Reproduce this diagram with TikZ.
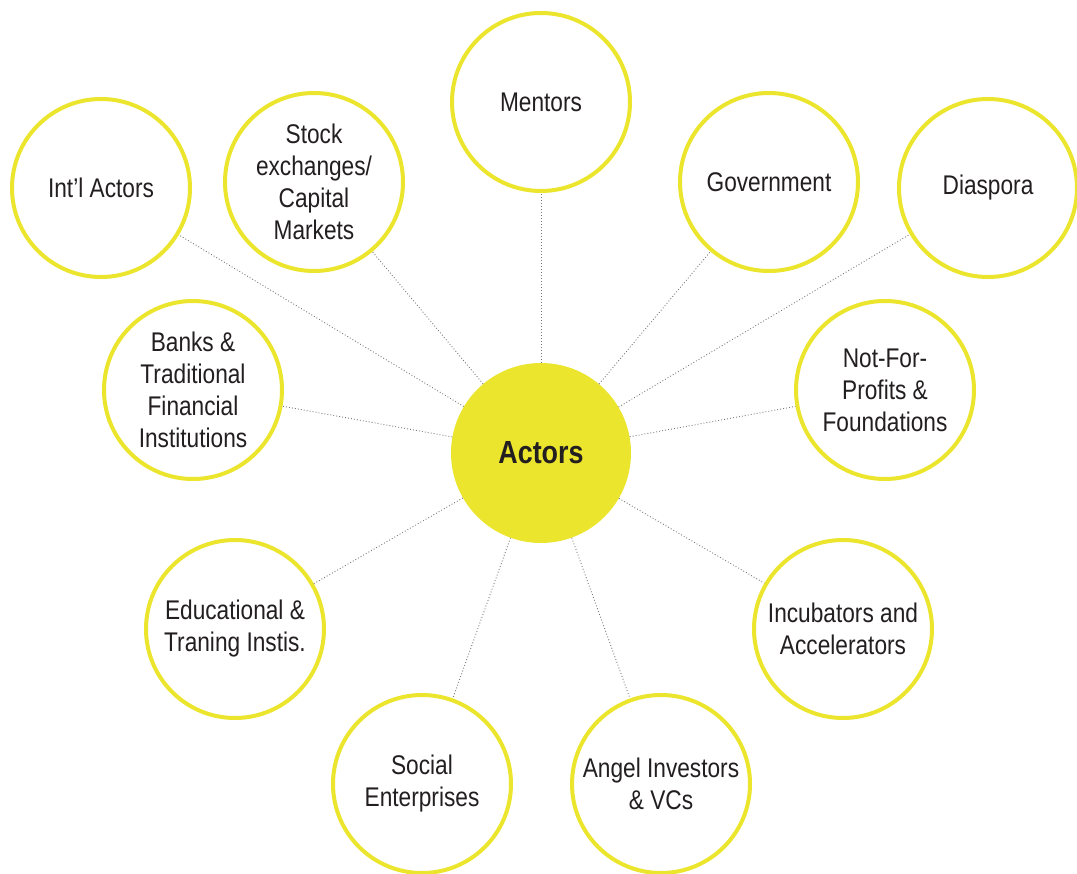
\documentclass[tikz,border=0pt]{standalone}
\usepackage{fontspec}
\setmainfont{Liberation Sans}[FakeStretch=0.84]
\definecolor{actyellow}{RGB}{236,229,45}
\definecolor{txt}{RGB}{35,31,32}
\definecolor{dotgray}{RGB}{120,120,120}
\tikzset{
  actor/.style={circle, draw=actyellow, line width=4pt, fill=white, minimum size=178pt,
    inner sep=0pt, align=center, text=txt, font=\fontsize{27}{32}\selectfont},
  hub/.style={circle, fill=actyellow, minimum size=180pt, inner sep=0pt, text=txt,
    font=\fontsize{32}{36}\selectfont\bfseries},
  link/.style={draw=dotgray, line width=0.9pt, dash pattern=on 0.9pt off 2.1pt}
}
\begin{document}
\begin{tikzpicture}[x=1pt,y=-1pt]
\useasboundingbox (0,0) rectangle (1077,874);
\node[hub] (c) at (541,453) {Actors};
\node[actor] (ment) at (541,102) {Mentors};
\node[actor] (intl) at (101,188) {Int’l Actors};
\node[actor] (stock) at (314,182) {Stock\\exchanges/\\Capital\\Markets};
\node[actor] (gov) at (769,182) {Government};
\node[actor] (dias) at (988,188) {Diaspora};
\node[actor] (bank) at (193,390) {Banks \&\\Traditional\\Financial\\Institutions};
\node[actor] (nfp) at (885,390) {Not-For-\\Profits \&\\Foundations};
\node[actor] (edu) at (235,629) {Educational \&\\Traning Instis.};
\node[actor] (inc) at (843,629) {Incubators and\\Accelerators};
\node[actor] (soc) at (422,784) {Social\\Enterprises};
\node[actor] (ang) at (661,784) {Angel Investors\\\& VCs};
\foreach \n in {ment,intl,stock,gov,dias,bank,nfp,edu,inc,soc,ang}{
  \draw[link] (c) -- (\n);
}
\end{tikzpicture}
\end{document}
